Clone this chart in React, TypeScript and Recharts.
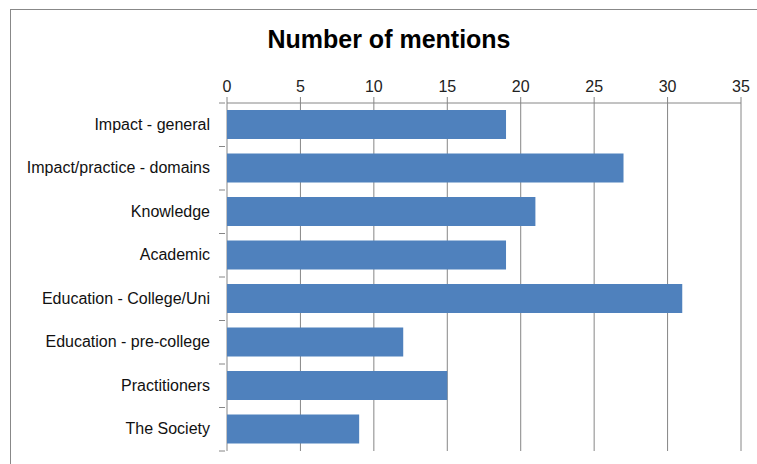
import React from 'react';
import { BarChart, Bar, XAxis, YAxis, CartesianGrid } from 'recharts';

const categories = [
  'Impact - general',
  'Impact/practice - domains',
  'Knowledge',
  'Academic',
  'Education - College/Uni',
  'Education - pre-college',
  'Practitioners',
  'The Society',
];
const mentions = [19, 27, 21, 19, 31, 12, 15, 9];
const xTicks = [0, 5, 10, 15, 20, 25, 30, 35];

const data = categories.map((name, i) => ({ name, mentions: mentions[i] }));

const FONT = '"Liberation Sans", Arial, sans-serif';
const BAND = 348 / categories.length;

// category label plus Excel-style tick marks between bands
const CategoryTick = (props: any) => {
  const { x, y, payload, index } = props;
  const isLast = index === categories.length - 1;
  return (
    <g>
      <line x1={x} x2={x + 6} y1={y - BAND / 2} y2={y - BAND / 2} stroke="#868686" />
      {isLast && <line x1={x} x2={x + 6} y1={y + BAND / 2} y2={y + BAND / 2} stroke="#868686" />}
      <text x={x - 9} y={y} dy={5} textAnchor="end" fontSize={16} fill="#111" fontFamily={FONT}>
        {payload.value}
      </text>
    </g>
  );
};

const App = () => {
  return (
    <div style={{ position: 'fixed', left: 0, top: 0, width: 757, height: 464, overflow: 'hidden', background: '#fff' }}>
      <div style={{ position: 'absolute', left: 10, top: 9, width: 747, height: 1, background: '#888' }} />
      <div style={{ position: 'absolute', left: 10, top: 9, width: 1, height: 455, background: '#888' }} />
      <div
        style={{
          position: 'absolute',
          left: 0,
          width: 778,
          top: 25,
          textAlign: 'center',
          fontFamily: FONT,
          fontWeight: 'bold',
          fontSize: 25,
          color: '#000',
        }}
      >
        Number of mentions
      </div>
      <div style={{ position: 'absolute', left: 0, top: 0 }}>
        <BarChart
          width={757}
          height={464}
          data={data}
          layout="vertical"
          barSize={29}
          margin={{ top: 73, right: 16, bottom: 13, left: 0 }}
        >
          <CartesianGrid horizontal={false} stroke="#868686" />
          <XAxis
            type="number"
            orientation="top"
            domain={[0, 35]}
            ticks={xTicks}
            height={30}
            tickSize={6}
            axisLine={{ stroke: '#868686' }}
            tickLine={{ stroke: '#868686' }}
            tick={{ fontSize: 16, fill: '#222', fontFamily: FONT }}
            tickMargin={5}
          />
          <YAxis
            type="category"
            dataKey="name"
            width={227}
            axisLine={false}
            tickLine={false}
            tick={<CategoryTick />}
            interval={0}
          />
          <Bar dataKey="mentions" fill="#4F81BD" isAnimationActive={false} />
        </BarChart>
      </div>
    </div>
  );
};

export default App;
